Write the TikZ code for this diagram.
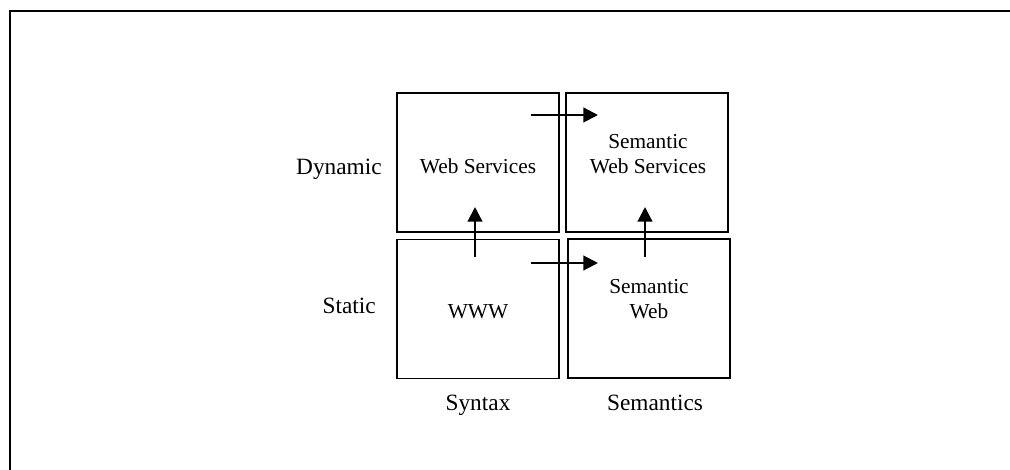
\documentclass[tikz,border=0pt]{standalone}
\usepackage{fontspec}
\setmainfont{Liberation Serif}
\usetikzlibrary{arrows.meta}

\begin{document}
\begin{tikzpicture}[x=0.75pt, y=-0.75pt,
    cell/.style={draw, line width=1.1pt, inner sep=0pt, outer sep=0pt,
                 minimum width=121.5pt, minimum height=104pt},
    celltext/.style={anchor=base, inner sep=0pt, align=center,
                     font=\fontsize{16}{18.75}\selectfont},
    axistext/.style={inner sep=0pt, font=\fontsize{17.5}{21}\selectfont},
    move/.style={line width=1.6pt, -{Triangle[length=11pt, width=11pt]}}]
  \useasboundingbox (0,0) rectangle (1010,470);
  % Draw frame
  \draw[line width=1.5pt] (10,470) -- (10,11) -- (1010,11);
  % Draw cells
  \node[cell] (ws)  at (478,162.5) {};
  \node[cell] (sws) at (647,162.5) {};
  \node[cell] (www) at (478,309) {};
  \node[cell] (sw)  at (649,308.5) {};
  % Cell texts
  \node[celltext] (wstext)  at (478,174) {Web Services};
  \node[celltext] (swstext) at (648,174) {Semantic\\Web Services};
  \node[celltext] (wwwtext) at (478,319) {WWW};
  \node[celltext] (swtext)  at (649,319) {Semantic\\Web};
  % Axis labels
  \node[axistext, anchor=base east] (dynamic)   at (382,175) {Dynamic};
  \node[axistext, anchor=base east] (static)    at (376,313) {Static};
  \node[axistext, anchor=base]      (syntax)    at (478,410) {Syntax};
  \node[axistext, anchor=base]      (semantics) at (655,410) {Semantics};
  % Draw arrows
  \coordinate (top-from)   at (531,115);
  \coordinate (top-to)     at (598,115);
  \coordinate (low-from)   at (531,263);
  \coordinate (low-to)     at (598,263);
  \coordinate (left-from)  at (475,257);
  \coordinate (left-to)    at (475,207);
  \coordinate (right-from) at (645,257);
  \coordinate (right-to)   at (645,207);
  \draw[move] (top-from) -- (top-to);
  \draw[move] (low-from) -- (low-to);
  \draw[move] (left-from) -- (left-to);
  \draw[move] (right-from) -- (right-to);
\end{tikzpicture}
\end{document}
